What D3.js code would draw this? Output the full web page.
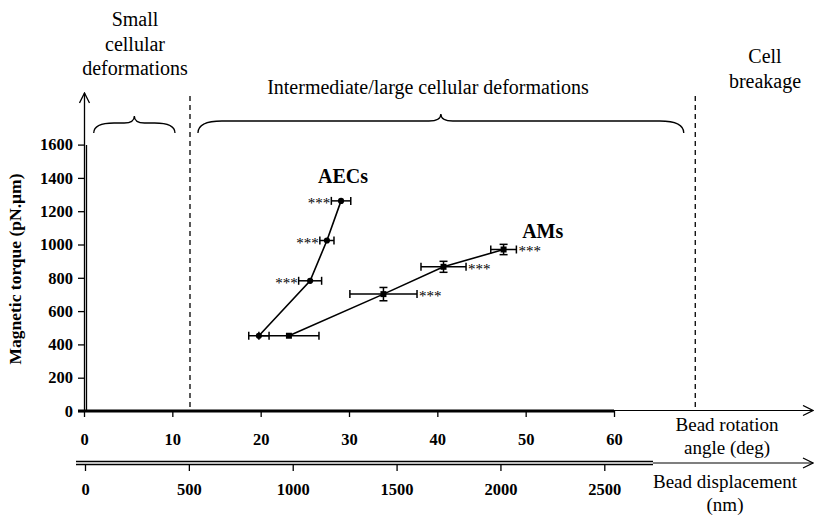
<!DOCTYPE html>
<html><head><meta charset="utf-8">
<script src="https://d3js.org/d3.v7.min.js"></script>
<style>body{margin:0;background:#fff}svg{display:block}
svg text{font-family:"Liberation Serif","DejaVu Serif","Times New Roman",serif;fill:#000}</style>
</head><body>
<svg id="c" width="816" height="516"></svg>
<script>
// ---- data ----
const degTicks = [0,10,20,30,40,50,60];
const nmTicks = [0,500,1000,1500,2000,2500];
const torqueTicks = [0,200,400,600,800,1000,1200,1400,1600];
const aecAngle = [19.8, 25.6, 27.5, 29.1];
const aecTorque = [452, 782, 1024, 1262];
const aecAngleErr = [1.15, 1.3, 0.8, 1.1];
const aecTorqueErr = [8, 10, 10, 10];
const amAngle = [23.2, 33.9, 40.7, 47.5];
const amTorque = [452, 702, 866, 970];
const amAngleErr = [3.4, 3.8, 2.55, 1.45];
const amTorqueErr = [8, 40, 33, 31];
const zoneBounds = [12, 69.2];

const svg = d3.select('#c');
const serif = '"Liberation Serif","DejaVu Serif","Times New Roman",serif';
const x = d3.scaleLinear().domain([0,60]).range([84,614]);
const xnm = d3.scaleLinear().domain([0,2500]).range([85,604.3]);
const y = d3.scaleLinear().domain([0,1600]).range([411,144.6]);

svg.append('defs').append('marker').attr('id','arr').attr('viewBox','0 0 12 12')
  .attr('refX',11).attr('refY',6).attr('markerWidth',12).attr('markerHeight',12)
  .attr('markerUnits','userSpaceOnUse').attr('orient','auto')
  .append('path').attr('d','M1,1 L11,6 L1,11').attr('fill','none').attr('stroke','#000').attr('stroke-width',1.3);

// dashed zone lines
svg.selectAll('.zone').data(zoneBounds).enter().append('line')
  .attr('x1',d=>x(d)).attr('x2',d=>x(d)).attr('y1',96).attr('y2',411)
  .attr('stroke','#000').attr('stroke-width',1.3).attr('stroke-dasharray','5,4');

// y axis
const yAxis = svg.append('g').attr('transform','translate(84,0)')
  .call(d3.axisLeft(y).tickValues(torqueTicks).tickSize(6).tickFormat(d3.format('d')));
yAxis.select('.domain').remove();
yAxis.selectAll('text').style('font-family',serif).attr('font-weight','bold').attr('font-size',16.5).attr('fill','#000').attr('dx',-2);
yAxis.selectAll('line').attr('stroke','#000').attr('stroke-width',1.3);
svg.append('line').attr('x1',84.5).attr('x2',84.5).attr('y1',412).attr('y2',93)
  .attr('stroke','#000').attr('stroke-width',1.3).attr('marker-end','url(#arr)');
svg.append('line').attr('x1',86.5).attr('x2',86.5).attr('y1',412).attr('y2',145)
  .attr('stroke','#000').attr('stroke-width',1.3);

// top x axis (degrees)
const xa = svg.append('g').attr('transform','translate(0,411)')
  .call(d3.axisBottom(x).tickValues(degTicks).tickSize(6).tickPadding(16));
xa.select('.domain').remove();
xa.selectAll('text').style('font-family',serif).attr('font-weight','bold').attr('font-size',16.5).attr('fill','#000');
xa.selectAll('line').attr('stroke','#000').attr('stroke-width',1.3);
svg.append('line').attr('x1',78).attr('x2',x(60)).attr('y1',411).attr('y2',411).attr('stroke','#000').attr('stroke-width',3);
svg.append('line').attr('x1',x(60)).attr('x2',813).attr('y1',410.5).attr('y2',410.5).attr('stroke','#000').attr('stroke-width',1.2).attr('marker-end','url(#arr)');

// bottom x axis (nm)
const xb = svg.append('g').attr('transform','translate(0,465)')
  .call(d3.axisBottom(xnm).tickValues(nmTicks).tickSize(6).tickPadding(12).tickFormat(d3.format('d')));
xb.select('.domain').remove();
xb.selectAll('text').style('font-family',serif).attr('font-weight','bold').attr('font-size',16.5).attr('fill','#000');
xb.selectAll('line').attr('stroke','#000').attr('stroke-width',1.3);
svg.append('line').attr('x1',76).attr('x2',653).attr('y1',461.5).attr('y2',461.5).attr('stroke','#000').attr('stroke-width',1.3);
svg.append('line').attr('x1',76).attr('x2',653).attr('y1',464.5).attr('y2',464.5).attr('stroke','#000').attr('stroke-width',1.3);
svg.append('line').attr('x1',653).attr('x2',813).attr('y1',463).attr('y2',463).attr('stroke','#000').attr('stroke-width',1.2).attr('marker-end','url(#arr)');

// braces
function brace(x1,x2,yb,ym,yt){
  const xm=(x1+x2)/2, r=Math.min(12,(x2-x1)/8);
  return `M${x1},${yb} Q${x1},${ym} ${x1+r*2},${ym} L${xm-r},${ym} Q${xm},${ym} ${xm},${yt} Q${xm},${ym} ${xm+r},${ym} L${x2-r*2},${ym} Q${x2},${ym} ${x2},${yb}`;
}
svg.append('path').attr('d',brace(x(1.1),x(10.3),133,123,116)).attr('fill','none').attr('stroke','#000').attr('stroke-width',1.3);
svg.append('path').attr('d',brace(x(12.9),x(67.9),133,121,114)).attr('fill','none').attr('stroke','#000').attr('stroke-width',1.3);

// zone labels
function label(lines,cx,y0,dy,size){
  const t=svg.append('text').style('font-family',serif).attr('font-size',size).attr('text-anchor','middle').attr('fill','#000');
  lines.forEach((l,i)=>t.append('tspan').attr('x',cx).attr('y',y0+i*dy).text(l));
}
label(['Small','cellular','deformations'],135,26,24.5,20);
label(['Intermediate/large cellular deformations'],428,94,0,20);
label(['Cell','breakage'],765,63,25,20);
label(['Bead rotation','angle (deg)'],727,431,23,19);
label(['Bead displacement','(nm)'],725,488,23,19);
svg.append('text').attr('transform','translate(21,269) rotate(-90)').attr('text-anchor','middle')
  .style('font-family',serif).attr('font-weight','bold').attr('font-size',17.5).text('Magnetic torque (pN.µm)');

// series
function series(ang,tor,aerr,terr,shape){
  const pts=ang.map((a,i)=>({a,t:tor[i],ae:aerr[i],te:terr[i]}));
  const g=svg.append('g');
  g.append('path').datum(pts).attr('d',d3.line().x(d=>x(d.a)).y(d=>y(d.t)))
    .attr('fill','none').attr('stroke','#000').attr('stroke-width',1.6);
  pts.forEach(d=>{
    const cx=x(d.a), cy=y(d.t), x1=x(d.a-d.ae), x2=x(d.a+d.ae), y1=y(d.t-d.te), y2=y(d.t+d.te);
    g.append('line').attr('x1',x1).attr('x2',x2).attr('y1',cy).attr('y2',cy).attr('stroke','#000').attr('stroke-width',1.5);
    [x1,x2].forEach(xx=>g.append('line').attr('x1',xx).attr('x2',xx).attr('y1',cy-4).attr('y2',cy+4).attr('stroke','#000').attr('stroke-width',1.5));
    g.append('line').attr('x1',cx).attr('x2',cx).attr('y1',y1).attr('y2',y2).attr('stroke','#000').attr('stroke-width',1.5);
    if (y2 < cy-4) [y1,y2].forEach(yy=>g.append('line').attr('x1',cx-4).attr('x2',cx+4).attr('y1',yy).attr('y2',yy).attr('stroke','#000').attr('stroke-width',1.5));
    g.append('path').attr('transform',`translate(${cx},${cy})`)
      .attr('d',d3.symbol().type(shape).size(shape===d3.symbolSquare?36:30)()).attr('fill','#000');
  });
  return pts;
}
const aecPts=series(aecAngle,aecTorque,aecAngleErr,aecTorqueErr,d3.symbolCircle);
const amPts=series(amAngle,amTorque,amAngleErr,amTorqueErr,d3.symbolSquare);

// significance stars
aecPts.slice(1).forEach(d=>svg.append('text').attr('x',x(d.a-d.ae)-1).attr('y',y(d.t)+7)
  .attr('text-anchor','end').style('font-family',serif).attr('font-size',15).attr('fill','#000').text('***'));
amPts.slice(1).forEach(d=>svg.append('text').attr('x',x(d.a+d.ae)+2).attr('y',y(d.t)+7)
  .attr('text-anchor','start').style('font-family',serif).attr('font-size',15).attr('fill','#000').text('***'));

svg.append('text').attr('x',x(26.5)).attr('y',183).style('font-family',serif).attr('font-weight','bold').attr('font-size',20).text('AECs');
svg.append('text').attr('x',x(49.6)).attr('y',238).style('font-family',serif).attr('font-weight','bold').attr('font-size',20).text('AMs');
</script>
</body></html>
